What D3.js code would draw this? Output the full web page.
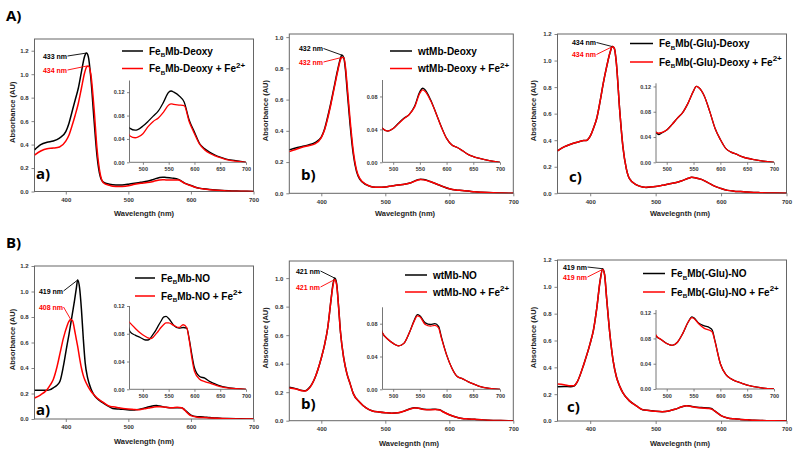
<!DOCTYPE html>
<html><head><meta charset="utf-8">
<script src="https://cdn.jsdelivr.net/npm/d3@7"></script>
<style>body{margin:0;background:#fff}svg{display:block}</style>
</head><body>
<svg id="c" width="800" height="454"></svg>
<script>
// ---------- DATA ----------
const mainXTicks = [400, 500, 600, 700];
const insetXTicks = [500, 550, 600, 650, 700];
const yTicks12 = [0, 0.2, 0.4, 0.6, 0.8, 1.0, 1.2];
const yTicks10 = [0, 0.2, 0.4, 0.6, 0.8, 1.0];
const inYTicks12 = [0, 0.04, 0.08, 0.12];
const inYTicks08 = [0, 0.04, 0.08];

// A-a FeBMb-Deoxy
const wlAa = [350,360,370,380,390,400,405,410,415,420,425,430,433,436,440,445,450,455,460,470,475,485,490,500,510,520,530,540,550,555,560,570,580,590,600,610,620,630,640,650,660,680,700];
const febDeoxy = [0.355,0.40,0.42,0.43,0.455,0.51,0.58,0.68,0.78,0.88,1.02,1.15,1.18,1.15,0.97,0.62,0.30,0.13,0.08,0.062,0.058,0.055,0.056,0.062,0.070,0.079,0.088,0.103,0.120,0.122,0.120,0.114,0.103,0.072,0.052,0.032,0.023,0.017,0.0125,0.009,0.006,0.003,0.0];
const febDeoxyFe = [0.31,0.345,0.365,0.37,0.38,0.43,0.48,0.56,0.65,0.75,0.88,1.01,1.06,1.07,1.0,0.72,0.36,0.15,0.075,0.052,0.045,0.042,0.043,0.049,0.061,0.070,0.076,0.086,0.098,0.100,0.099,0.098,0.097,0.069,0.049,0.031,0.021,0.015,0.011,0.008,0.005,0.002,0.0];

// A-b wtMb-Deoxy
const wlAb = [350,360,370,380,390,400,405,410,415,420,425,430,432,435,438,440,445,450,455,460,470,480,490,500,510,520,530,540,550,555,560,570,580,590,600,610,620,630,640,650,660,680,700];
const wtDeoxy = [0.278,0.29,0.30,0.31,0.325,0.36,0.41,0.49,0.58,0.68,0.78,0.865,0.885,0.87,0.78,0.68,0.44,0.25,0.14,0.09,0.055,0.041,0.038,0.041,0.0475,0.0536,0.058,0.068,0.086,0.090,0.088,0.076,0.060,0.0435,0.029,0.021,0.018,0.014,0.0097,0.007,0.005,0.002,0.0];
const wtDeoxyFe = [0.267,0.28,0.295,0.305,0.316,0.357,0.405,0.48,0.57,0.67,0.77,0.855,0.87,0.87,0.80,0.71,0.47,0.27,0.15,0.095,0.057,0.041,0.038,0.041,0.047,0.053,0.058,0.067,0.084,0.088,0.086,0.075,0.060,0.043,0.029,0.021,0.018,0.014,0.0097,0.007,0.005,0.002,0.0];

// A-c FeBMb(-Glu)-Deoxy
const wlAc = [350,360,370,380,390,395,400,405,410,415,420,425,430,434,437,440,445,450,455,460,470,480,485,490,500,510,520,530,540,550,555,560,570,580,590,600,610,620,630,640,650,660,680,700];
const gluDeoxy = [0.32,0.35,0.37,0.385,0.397,0.40,0.43,0.49,0.565,0.69,0.83,0.95,1.055,1.105,1.09,0.98,0.63,0.35,0.19,0.11,0.065,0.0475,0.044,0.046,0.051,0.060,0.070,0.079,0.094,0.113,0.120,0.118,0.105,0.081,0.054,0.036,0.022,0.016,0.0128,0.009,0.0064,0.0048,0.002,0.0];
const gluDeoxyFe = [0.32,0.35,0.37,0.385,0.397,0.40,0.43,0.49,0.565,0.69,0.83,0.95,1.055,1.105,1.09,0.98,0.63,0.35,0.19,0.11,0.065,0.0475,0.046,0.047,0.051,0.060,0.070,0.079,0.094,0.113,0.120,0.118,0.105,0.081,0.054,0.036,0.022,0.016,0.0128,0.009,0.0064,0.0048,0.002,0.0];

// B-a FeBMb-NO
const wlBa = [350,360,370,375,380,386,391,396,402,405,408,411,414,417,419,422,425,428,431,435,440,445,450,460,470,475,485,495,505,510,515,520,525,530,535,540,545,550,560,570,578,585,590,595,600,610,620,630,640,650,660,680,700];
const febNO = [0.225,0.226,0.225,0.23,0.245,0.265,0.30,0.41,0.58,0.66,0.75,0.84,0.93,1.03,1.09,1.03,0.86,0.63,0.44,0.32,0.24,0.19,0.16,0.125,0.095,0.083,0.078,0.0746,0.071,0.071,0.074,0.0795,0.085,0.0917,0.098,0.104,0.105,0.102,0.092,0.088,0.089,0.088,0.072,0.05,0.031,0.0185,0.016,0.011,0.0078,0.0049,0.003,0.001,0.0];
const febNOFe = [0.165,0.19,0.23,0.265,0.31,0.41,0.52,0.63,0.73,0.765,0.78,0.77,0.70,0.62,0.57,0.48,0.40,0.34,0.30,0.26,0.22,0.19,0.165,0.13,0.10,0.0956,0.088,0.081,0.076,0.074,0.073,0.075,0.0795,0.084,0.089,0.093,0.0956,0.0956,0.092,0.089,0.093,0.089,0.07,0.045,0.026,0.0146,0.011,0.0088,0.0063,0.004,0.0024,0.0008,0.0];

// B-b wtMb-NO
const wlBb = [350,360,370,375,380,390,400,405,410,415,418,421,424,427,430,435,440,445,450,460,470,480,490,500,510,520,530,540,545,550,560,570,578,585,590,600,610,620,630,640,650,660,680,700];
const wtNO = [0.234,0.225,0.212,0.21,0.225,0.30,0.44,0.53,0.65,0.84,0.95,1.0,0.96,0.80,0.62,0.44,0.33,0.26,0.19,0.13,0.09,0.0686,0.061,0.056,0.053,0.056,0.0686,0.085,0.091,0.0898,0.081,0.079,0.080,0.0767,0.0645,0.042,0.0257,0.0155,0.0127,0.0094,0.0065,0.004,0.0012,0.0];
const wtNOFe = [0.23,0.222,0.21,0.208,0.222,0.30,0.44,0.53,0.65,0.84,0.94,0.99,0.95,0.80,0.62,0.44,0.33,0.26,0.19,0.13,0.09,0.0686,0.061,0.056,0.053,0.056,0.0686,0.084,0.0895,0.0885,0.079,0.077,0.078,0.075,0.063,0.042,0.0257,0.0155,0.0127,0.0094,0.0065,0.004,0.0012,0.0];

// B-c FeBMb(-Glu)-NO
const wlBc = [350,360,370,375,380,390,400,405,410,415,419,422,425,430,435,440,445,450,460,470,480,490,500,510,520,530,540,547,550,560,570,580,585,590,600,610,620,630,640,650,660,680,700];
const gluNO = [0.256,0.258,0.256,0.26,0.29,0.42,0.58,0.68,0.84,1.04,1.135,1.09,0.92,0.65,0.45,0.33,0.26,0.21,0.15,0.115,0.084,0.078,0.072,0.069,0.074,0.088,0.106,0.114,0.113,0.104,0.100,0.097,0.093,0.076,0.040,0.023,0.016,0.012,0.009,0.006,0.004,0.0015,0.0];
const gluNOFe = [0.275,0.27,0.262,0.262,0.29,0.42,0.58,0.68,0.84,1.04,1.13,1.09,0.92,0.65,0.45,0.33,0.26,0.21,0.15,0.115,0.085,0.078,0.072,0.069,0.074,0.088,0.106,0.113,0.112,0.103,0.096,0.093,0.090,0.075,0.040,0.023,0.016,0.012,0.009,0.006,0.004,0.0015,0.0];

// legend names ({..} = subscript, [..] = superscript)
const namesAa = ["Fe{B}Mb-Deoxy", "Fe{B}Mb-Deoxy + Fe[2+]"];
const namesAb = ["wtMb-Deoxy", "wtMb-Deoxy + Fe[2+]"];
const namesAc = ["Fe{B}Mb(-Glu)-Deoxy", "Fe{B}Mb(-Glu)-Deoxy + Fe[2+]"];
const namesBa = ["Fe{B}Mb-NO", "Fe{B}Mb-NO + Fe[2+]"];
const namesBb = ["wtMb-NO", "wtMb-NO + Fe[2+]"];
const namesBc = ["Fe{B}Mb(-Glu)-NO", "Fe{B}Mb(-Glu)-NO + Fe[2+]"];

// peak labels [wavelength, absorbance]
const peaksAa = [[433, 1.18], [434, 1.07]];
const peaksAb = [[432, 0.885], [432, 0.87]];
const peaksAc = [[434, 1.105], [434, 1.105]];
const peaksBa = [[419, 1.09], [408, 0.78]];
const peaksBb = [[421, 1.0], [421, 0.99]];
const peaksBc = [[419, 1.135], [419, 1.13]];

// ---------- LAYOUT ----------
const RED = "#ff0000";
const panels = [
 {wl: wlAa, s: [febDeoxy, febDeoxyFe], names: namesAa, peaks: peaksAa, letter: "a)", ymax: 1.3, yt: yTicks12, xtitle: "Wavelength (nm)",
  x0: 34.5, x1: 253.5, y0: 39, y1: 191.5, ix0: 129.5, ix1: 246, iy0: 80.5, iy1: 162.3, ixmin: 474, iymax: 0.14, iyt: inYTicks12,
  lgx0: 122, lgx1: 143, lgy: [51, 68.5], plx: 67, ply: [56, 70], ltx: 36, lty: 179, xtx: 144, xty: 216, ytx: 12},
 {wl: wlAb, s: [wtDeoxy, wtDeoxyFe], names: namesAb, peaks: peaksAb, letter: "b)", ymax: 1.02, yt: yTicks10, xtitle: "Wavelegnth (nm)",
  x0: 289.3, x1: 513.3, y0: 34, y1: 193.3, ix0: 382.5, ix1: 500, iy0: 80, iy1: 162.3, ixmin: 480, iymax: 0.10, iyt: inYTicks08,
  lgx0: 390, lgx1: 412, lgy: [51, 68.5], plx: 323, ply: [48.5, 62], ltx: 301, lty: 180, xtx: 405, xty: 216, ytx: 265},
 {wl: wlAc, s: [gluDeoxy, gluDeoxyFe], names: namesAc, peaks: peaksAc, letter: "c)", ymax: 1.2, yt: yTicks12, xtitle: "Wavelegnth (nm)",
  x0: 557.5, x1: 786.5, y0: 34, y1: 193.3, ix0: 656, ix1: 774, iy0: 83.3, iy1: 162.3, ixmin: 480, iymax: 0.125, iyt: inYTicks12,
  lgx0: 630, lgx1: 653, lgy: [43.5, 62], plx: 596, ply: [42.5, 54.5], ltx: 569, lty: 182, xtx: 680, xty: 216, ytx: 533},
 {wl: wlBa, s: [febNO, febNOFe], names: namesBa, peaks: peaksBa, letter: "a)", ymax: 1.2, yt: yTicks12, xtitle: "Wavelength (nm)",
  x0: 34.5, x1: 253.5, y0: 266, y1: 419, ix0: 129.5, ix1: 246, iy0: 306, iy1: 389.3, ixmin: 474, iymax: 0.12, iyt: inYTicks12,
  lgx0: 135, lgx1: 155, lgy: [278, 296], plx: 63, ply: [291, 307], ltx: 36, lty: 415, xtx: 144, xty: 444, ytx: 12},
 {wl: wlBb, s: [wtNO, wtNOFe], names: namesBb, peaks: peaksBb, letter: "b)", ymax: 1.12, yt: yTicks10, xtitle: "Wavelegnth (nm)",
  x0: 289.3, x1: 513.3, y0: 261, y1: 420.7, ix0: 382.5, ix1: 500, iy0: 307.3, iy1: 389.3, ixmin: 480, iymax: 0.10, iyt: inYTicks08,
  lgx0: 405, lgx1: 427, lgy: [275, 292], plx: 320, ply: [271, 287], ltx: 301, lty: 409, xtx: 409, xty: 446, ytx: 265},
 {wl: wlBc, s: [gluNO, gluNOFe], names: namesBc, peaks: peaksBc, letter: "c)", ymax: 1.2, yt: yTicks12, xtitle: "Wavelegnth (nm)",
  x0: 557.5, x1: 786.5, y0: 260, y1: 421, ix0: 656, ix1: 774, iy0: 310, iy1: 389, ixmin: 480, iymax: 0.125, iyt: inYTicks12,
  lgx0: 643, lgx1: 665, lgy: [273.5, 292], plx: 587, ply: [267, 277], ltx: 567, lty: 412, xtx: 680, xty: 446, ytx: 533}
];

const svg = d3.select("#c");
const FONT = "'Liberation Sans', Arial, sans-serif";
const LFONT = "'Open Sans', Lato, sans-serif";
const AXC = "#666";

function styleAxis(sel, fs) {
  sel.select(".domain").remove();
  sel.selectAll(".tick line").attr("stroke", AXC).attr("stroke-width", 0.8);
  sel.selectAll(".tick text").attr("font-family", FONT).attr("font-size", fs).attr("fill", "#333").attr("font-weight", "bold");
}

function richText(sel, str, fs) {
  const re = /(\{[^}]*\}|\[[^\]]*\])/;
  const parts = str.split(re).filter(s => s.length);
  let shift = 0;
  parts.forEach(p => {
    if (p[0] === "{") {
      sel.append("tspan").attr("dy", 2.5 - shift).attr("font-size", fs * 0.62).text(p.slice(1, -1));
      shift = 2.5;
    } else if (p[0] === "[") {
      sel.append("tspan").attr("dy", -4.5 - shift).attr("font-size", fs * 0.8).text(p.slice(1, -1));
      shift = -4.5;
    } else {
      sel.append("tspan").attr("dy", -shift).text(p);
      shift = 0;
    }
  });
}

panels.forEach((p, i) => {
  const g = svg.append("g");
  const x = d3.scaleLinear().domain([350, 700]).range([p.x0, p.x1]);
  const y = d3.scaleLinear().domain([0, p.ymax]).range([p.y1, p.y0]);
  const cid = "clip" + i, icid = "iclip" + i;
  const defs = svg.append("defs");
  defs.append("clipPath").attr("id", cid).append("rect")
    .attr("x", p.x0).attr("y", p.y0).attr("width", p.x1 - p.x0).attr("height", p.y1 - p.y0);

  // axes
  const ax = g.append("g").attr("transform", `translate(0,${p.y1})`)
    .call(d3.axisBottom(x).tickValues(mainXTicks).tickSize(3).tickPadding(3).tickFormat(d3.format("d")));
  styleAxis(ax, 6);
  const ay = g.append("g").attr("transform", `translate(${p.x0},0)`)
    .call(d3.axisLeft(y).tickValues(p.yt).tickSize(3).tickPadding(3).tickFormat(d3.format(".1f")));
  styleAxis(ay, 6);
  g.append("rect").attr("x", p.x0).attr("y", p.y0).attr("width", p.x1 - p.x0).attr("height", p.y1 - p.y0)
    .attr("fill", "none").attr("stroke", AXC).attr("stroke-width", 1);

  const colors = ["#000", RED];
  const data = p.s.map(v => d3.zip(p.wl, v));
  const line = d3.line().x(d => x(d[0])).y(d => y(d[1])).curve(d3.curveMonotoneX);
  const lg = g.append("g").attr("clip-path", `url(#${cid})`);
  data.forEach((d, k) => lg.append("path").attr("d", line(d)).attr("fill", "none")
    .attr("stroke", colors[k]).attr("stroke-width", 1.5));

  // inset
  const xi = d3.scaleLinear().domain([p.ixmin, 700]).range([p.ix0, p.ix1]);
  const yi = d3.scaleLinear().domain([0, p.iymax]).range([p.iy1, p.iy0]);
  defs.append("clipPath").attr("id", icid).append("rect")
    .attr("x", p.ix0).attr("y", p.iy0 - 2).attr("width", p.ix1 - p.ix0 + 2).attr("height", p.iy1 - p.iy0 + 2);
  const ix = g.append("g").attr("transform", `translate(0,${p.iy1})`)
    .call(d3.axisBottom(xi).tickValues(insetXTicks).tickSize(2.5).tickPadding(2.5).tickFormat(d3.format("d")));
  styleAxis(ix, 5.5);
  const iy = g.append("g").attr("transform", `translate(${p.ix0},0)`)
    .call(d3.axisLeft(yi).tickValues(p.iyt).tickSize(2.5).tickPadding(2.5).tickFormat(d3.format(".2f")));
  styleAxis(iy, 5.5);
  g.append("path").attr("d", `M${p.ix0},${p.iy0}V${p.iy1}H${p.ix1}`).attr("fill", "none")
    .attr("stroke", AXC).attr("stroke-width", 0.9);
  const iline = d3.line().x(d => xi(d[0])).y(d => yi(d[1])).curve(d3.curveMonotoneX);
  const ilg = g.append("g").attr("clip-path", `url(#${icid})`);
  data.forEach((d, k) => ilg.append("path").attr("d", iline(d.filter(e => e[0] >= p.ixmin - 15)))
    .attr("fill", "none").attr("stroke", colors[k]).attr("stroke-width", 1.3));

  // legend
  p.names.forEach((nm, k) => {
    g.append("line").attr("x1", p.lgx0).attr("x2", p.lgx1).attr("y1", p.lgy[k]).attr("y2", p.lgy[k])
      .attr("stroke", colors[k]).attr("stroke-width", 1.5);
    const t = g.append("text").attr("x", p.lgx1 + 6).attr("y", p.lgy[k] + 3.6)
      .attr("font-family", FONT).attr("font-size", 10).attr("font-weight", "bold").attr("fill", "#000");
    richText(t, nm, 10);
  });

  // peak labels
  p.peaks.forEach((pk, k) => {
    g.append("text").attr("x", p.plx).attr("y", p.ply[k] + 2.5).attr("text-anchor", "end")
      .attr("font-family", FONT).attr("font-size", 7).attr("font-weight", "bold").attr("fill", colors[k])
      .text(pk[0] + " nm");
    g.append("line").attr("x1", p.plx + 0.5).attr("y1", p.ply[k]).attr("x2", x(pk[0])).attr("y2", y(pk[1]))
      .attr("stroke", colors[k]).attr("stroke-width", 0.9);
  });

  // panel letter
  g.append("text").attr("x", p.ltx).attr("y", p.lty).attr("font-family", LFONT)
    .attr("font-size", 15).attr("font-weight", "bold").attr("fill", "#000").text(p.letter);

  // titles
  g.append("text").attr("x", p.xtx).attr("y", p.xty).attr("text-anchor", "middle")
    .attr("font-family", FONT).attr("font-size", 7.5).attr("font-weight", "bold").attr("fill", "#222").text(p.xtitle);
  g.append("text").attr("transform", `translate(${p.ytx + 2.5},${(p.y0 + p.y1) / 2 - 3}) rotate(-90)`)
    .attr("text-anchor", "middle").attr("font-family", FONT).attr("font-size", 7.5).attr("font-weight", "bold")
    .attr("fill", "#222").text("Absorbance (AU)");
});

svg.append("text").attr("x", 6).attr("y", 21).attr("font-family", LFONT)
  .attr("font-size", 15).attr("font-weight", "bold").text("A)");
svg.append("text").attr("x", 6).attr("y", 248).attr("font-family", LFONT)
  .attr("font-size", 15).attr("font-weight", "bold").text("B)");
</script>
</body></html>
